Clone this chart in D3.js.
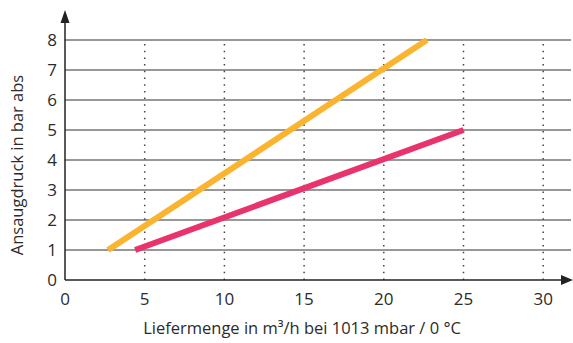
<!DOCTYPE html>
<html>
<head>
<meta charset="utf-8">
<script src="https://cdn.jsdelivr.net/npm/d3@7"></script>
<style>
  body { margin: 0; background: #fff; }
  text { font-family: "Open Sans", "Noto Sans", sans-serif; fill: #2b2b2b; }
</style>
</head>
<body>
<div id="chart"></div>
<script>
var xTicks = [0, 5, 10, 15, 20, 25, 30],
    yTicks = [0, 1, 2, 3, 4, 5, 6, 7, 8];

// Liefermenge (m3/h) vs Ansaugdruck (bar abs)
var orangeX = [2.7, 22.7],
    orangeY = [1, 8];
var pinkX = [4.4, 25],
    pinkY = [1, 5];

var w = 573, h = 343,
    x0 = 65, y0 = 280;

var x = d3.scaleLinear().domain([0, 30]).range([x0, 543.2]),
    y = d3.scaleLinear().domain([0, 8]).range([y0, 40]);

var svg = d3.select("#chart").append("svg")
    .attr("width", w)
    .attr("height", h);

// horizontal grid
svg.selectAll("line.hgrid")
    .data(yTicks.slice(1))
  .enter().append("line")
    .attr("class", "hgrid")
    .attr("x1", x0).attr("x2", 571)
    .attr("y1", function(d) { return y(d); })
    .attr("y2", function(d) { return y(d); })
    .attr("stroke", "#333")
    .attr("stroke-width", 1.2);

// dotted vertical grid
svg.selectAll("line.vgrid")
    .data(xTicks.slice(1))
  .enter().append("line")
    .attr("class", "vgrid")
    .attr("x1", function(d) { return x(d); })
    .attr("x2", function(d) { return x(d); })
    .attr("y1", y0).attr("y2", y(8))
    .attr("stroke", "#444")
    .attr("stroke-width", 1.5)
    .attr("stroke-dasharray", "1.5,5.2");

// axes
svg.append("line")
    .attr("x1", x0).attr("x2", 562)
    .attr("y1", y0).attr("y2", y0)
    .attr("stroke", "#222").attr("stroke-width", 1.5);
svg.append("path")
    .attr("d", "M573," + y0 + "L561," + (y0 - 5) + "L561," + (y0 + 5) + "Z")
    .attr("fill", "#222");
svg.append("line")
    .attr("x1", x0).attr("x2", x0)
    .attr("y1", y0).attr("y2", 22)
    .attr("stroke", "#222").attr("stroke-width", 1.5);
svg.append("path")
    .attr("d", "M" + x0 + ",10L" + (x0 - 4.5) + ",23L" + (x0 + 4.5) + ",23Z")
    .attr("fill", "#222");

// tick labels
svg.selectAll("text.xt")
    .data(xTicks)
  .enter().append("text")
    .attr("class", "xt")
    .attr("x", function(d) { return x(d); })
    .attr("y", 305)
    .attr("text-anchor", "middle")
    .style("font-size", "17px")
    .text(function(d) { return d; });

svg.selectAll("text.yt")
    .data(yTicks)
  .enter().append("text")
    .attr("class", "yt")
    .attr("x", 57)
    .attr("y", function(d) { return y(d) + 6; })
    .attr("text-anchor", "end")
    .style("font-size", "17px")
    .text(function(d) { return d; });

// axis titles
svg.append("text")
    .attr("x", 302).attr("y", 334)
    .attr("text-anchor", "middle")
    .style("font-size", "16.5px")
    .text("Liefermenge in m³/h bei 1013 mbar / 0 °C");

svg.append("text")
    .attr("transform", "translate(23,165)rotate(-90)")
    .attr("text-anchor", "middle")
    .style("font-size", "16.5px")
    .text("Ansaugdruck in bar abs");

// data lines
var line = d3.line()
    .x(function(d) { return x(d[0]); })
    .y(function(d) { return y(d[1]); });

svg.append("path")
    .datum(d3.zip(orangeX, orangeY))
    .attr("d", line)
    .attr("fill", "none")
    .attr("stroke", "#FBB42F")
    .attr("stroke-width", 6);

svg.append("path")
    .datum(d3.zip(pinkX, pinkY))
    .attr("d", line)
    .attr("fill", "none")
    .attr("stroke", "#E8336D")
    .attr("stroke-width", 6);
</script>
</body>
</html>
